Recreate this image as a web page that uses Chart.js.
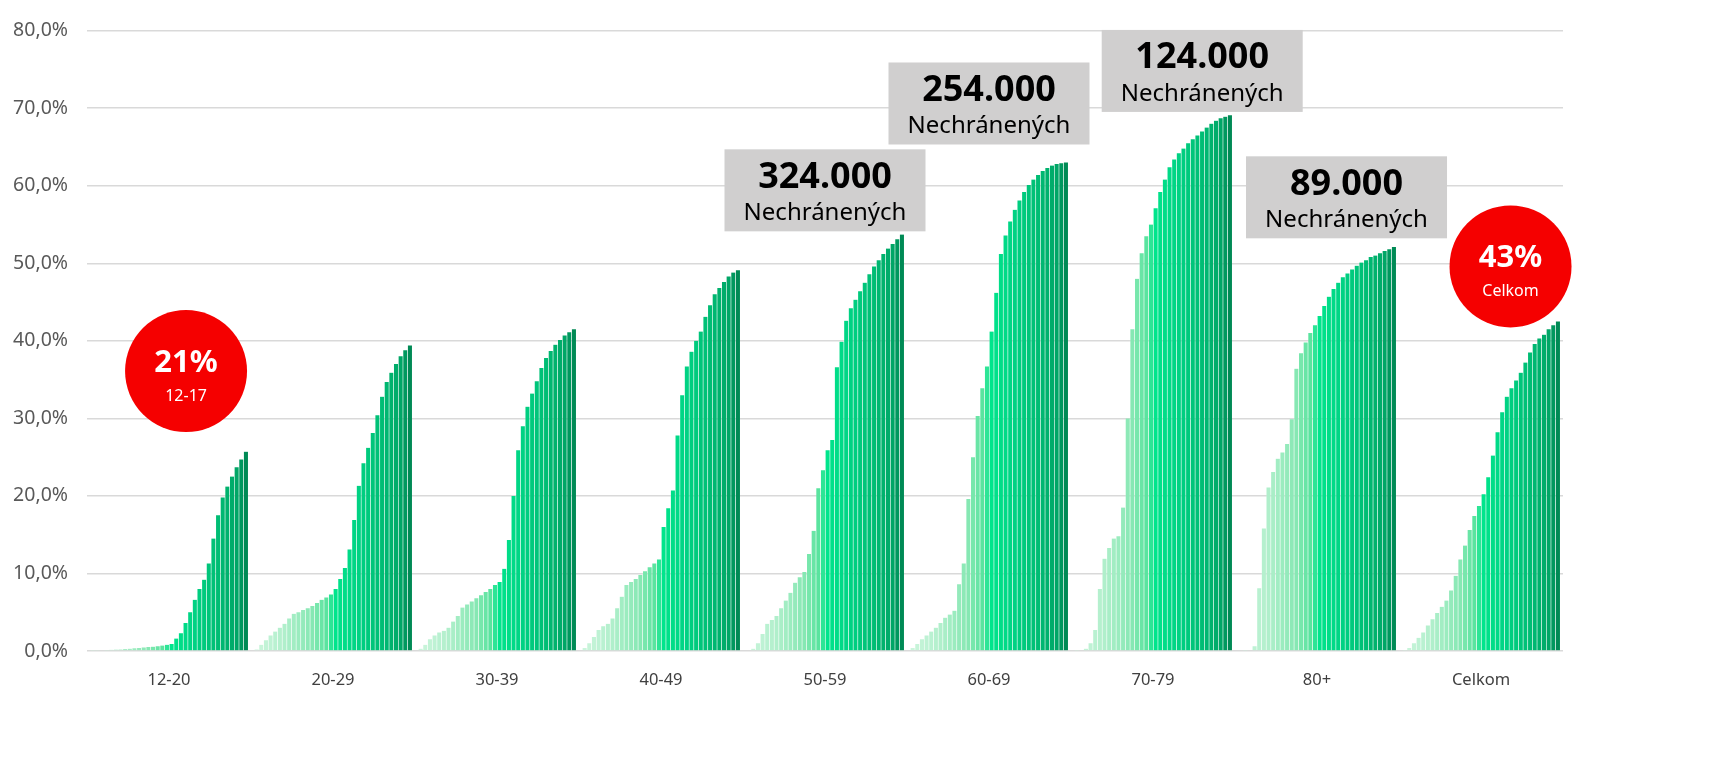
<!DOCTYPE html>
<html>
<head>
<meta charset="utf-8">
<script src="https://cdn.jsdelivr.net/npm/chart.js@4.4.0/dist/chart.umd.min.js"></script>
<style>
    html, body { margin: 0; padding: 0; background: #ffffff; }
    #wrap { width: 1729px; height: 761px; position: relative; }
</style>
</head>
<body>
<div id="wrap"><canvas id="chart"></canvas></div>
<script>
// Age groups on the x axis
const ageGroups = ['12-20', '20-29', '30-39', '40-49', '50-59', '60-69', '70-79', '80+', 'Celkom'];

// Share vaccinated (%) per reporting week, one array per age group (34 weeks)
const g1220 = [0.05, 0.08, 0.1, 0.12, 0.15, 0.18, 0.2, 0.25, 0.3, 0.35, 0.4, 0.45, 0.5, 0.55, 0.6, 0.7, 0.8, 0.9, 1.6, 2.3, 3.6, 5.0,
               6.6, 8.0, 9.2, 11.3, 14.5, 17.5, 19.8, 21.2, 22.5, 23.7, 24.7, 25.7];
const g2029 = [0.2, 0.8, 1.4, 2.0, 2.5, 3.0, 3.5, 4.2, 4.8, 5.0, 5.3, 5.5,
               5.8, 6.2, 6.6, 6.9, 7.3, 8.0, 9.3, 10.7, 13.1, 16.9, 21.3, 24.2, 26.2, 28.1, 30.4, 32.8, 34.7, 35.9, 37.0, 38.0, 38.8, 39.4];
const g3039 = [0.3, 0.8, 1.5, 2.0, 2.4, 2.6, 3.0, 3.8, 4.5, 5.6, 6.0, 6.4, 6.8, 7.2, 7.6, 8.0, 8.5, 8.9, 10.6,
               14.3, 20.0, 25.9, 29.0, 31.5, 33.2, 34.8, 36.5, 37.8, 38.7, 39.5, 40.1, 40.7, 41.1, 41.5];
const g4049 = [0.4, 1.0, 1.8, 2.7, 3.2, 3.5, 4.2, 5.5, 7.0, 8.5, 8.9, 9.3, 9.8, 10.3, 10.8, 11.3, 11.8,
               16.0, 18.4, 20.7, 27.8, 33.0, 36.7, 38.6, 40.0, 41.2, 43.1, 44.6, 46.0, 46.8, 47.6, 48.3, 48.8, 49.1];
const g5059 = [0.1, 0.3, 1.0, 2.2, 3.5, 4.0, 4.5, 5.5, 6.5, 7.5, 8.8, 9.5, 10.2, 12.5, 15.5, 21.0, 23.3, 25.9, 27.2,
               36.6, 39.9, 42.6, 44.2, 45.3, 46.4, 47.5, 48.6, 49.6, 50.4, 51.2, 51.9, 52.5, 53.1, 53.7];
const g6069 = [0.4, 0.9, 1.5, 2.0, 2.5, 3.0, 3.6, 4.3, 4.7, 5.2, 8.6, 11.3, 19.6, 25.0, 30.3, 33.9, 36.7,
               41.2, 46.2, 51.2, 53.6, 55.4, 56.9, 58.1, 59.2, 60.1, 60.8, 61.4, 61.9, 62.3, 62.6, 62.8, 62.9, 63.0];
const g7079 = [0.05, 0.1, 0.3, 1.0, 2.7, 8.0, 11.9, 13.3, 14.5, 14.8, 18.5, 30.0, 41.5, 48.0, 51.3, 53.5, 55.0,
               57.1, 59.2, 60.8, 62.4, 63.4, 64.2, 64.8, 65.5, 66.0, 66.5, 67.0, 67.5, 68.0, 68.4, 68.7, 68.9, 69.1];
const g80 = [0, 0.05, 0.1, 0.6, 8.1, 15.8, 21.1, 23.1, 24.8, 25.6, 26.7, 29.9, 36.4, 38.4, 39.8, 41.0, 42.0,
             43.2, 44.5, 45.7, 46.7, 47.5, 48.2, 48.7, 49.2, 49.7, 50.1, 50.4, 50.8, 51.0, 51.3, 51.6, 51.8, 52.1];
const gTotal = [0.05, 0.4, 1.0, 1.7, 2.4, 3.3, 4.1, 4.9, 5.7, 6.5, 7.8, 9.7, 11.8, 13.6, 15.6, 17.4, 18.7,
                20.2, 22.4, 25.2, 28.2, 30.8, 32.8, 33.9, 34.9, 35.9, 37.2, 38.5, 39.6, 40.3, 40.8, 41.5, 42.0, 42.5];

const groupSeries = [g1220, g2029, g3039, g4049, g5059, g6069, g7079, g80, gTotal];

// Callout boxes: unprotected counts
const boxNumbers = ['324.000', '254.000', '124.000', '89.000'];
const boxLabel = 'Nechránených';
const boxCenters = [4.0, 5.0, 6.3, 7.18];     // in category units
const boxTops = [64.7, 75.9, 80.1, 63.8];     // in % (y units)

// Red circles
const circleValues = ['21%', '43%'];
const circleLabels = ['12-17', 'Celkom'];
const circleCenters = [0.104, 8.18];
const circleLevels = [36.1, 49.6];

const FONT = '"Noto Sans", "DejaVu Sans", sans-serif';

// light mint -> bright green -> dark green, by week
const colorStops = [
    [0, '#cbf5dc'], [6, '#b0efcb'], [12, '#86e8b3'], [15, '#5ae49f'],
    [17, '#00e58c'], [22, '#00d283'], [27, '#00bd74'], [31, '#00a666'], [33, '#008a55']
];

function hexToRgb(h) {
    return [parseInt(h.slice(1, 3), 16), parseInt(h.slice(3, 5), 16), parseInt(h.slice(5, 7), 16)];
}

function weekColor(i) {
    for (let k = 0; k < colorStops.length - 1; k++) {
        const [i0, c0] = colorStops[k];
        const [i1, c1] = colorStops[k + 1];
        if (i >= i0 && i <= i1) {
            const t = (i - i0) / (i1 - i0);
            const a = hexToRgb(c0), b = hexToRgb(c1);
            const m = a.map((v, j) => Math.round(v + (b[j] - v) * t));
            return `rgb(${m[0]},${m[1]},${m[2]})`;
        }
    }
    return colorStops[colorStops.length - 1][1];
}

const weekCount = g1220.length;
const datasets = [];
for (let w = 0; w < weekCount; w++) {
    datasets.push({
        data: groupSeries.map(series => series[w]),
        backgroundColor: weekColor(w),
        borderColor: 'rgba(255,255,255,0.16)',
        borderWidth: { left: 1, top: 0, right: 0, bottom: 0 },
        borderSkipped: false,
        inflateAmount: 0.4
    });
}

const calloutPlugin = {
    id: 'callouts',
    afterDatasetsDraw(chart) {
        const { ctx, scales: { x, y } } = chart;
        ctx.save();
        ctx.textAlign = 'center';
        ctx.textBaseline = 'middle';

        boxNumbers.forEach((num, i) => {
            const cx = x.getPixelForValue(boxCenters[i]);
            const top = y.getPixelForValue(boxTops[i]);
            ctx.fillStyle = '#d0cfcf';
            ctx.fillRect(cx - 100.5, top, 201, 82);
            ctx.fillStyle = '#000000';
            ctx.font = `bold 36px ${FONT}`;
            ctx.fillText(num, cx, top + 28);
            ctx.font = `24px ${FONT}`;
            ctx.fillText(boxLabel, cx, top + 64);
        });

        circleValues.forEach((val, i) => {
            const cx = x.getPixelForValue(circleCenters[i]);
            const cy = y.getPixelForValue(circleLevels[i]);
            ctx.beginPath();
            ctx.arc(cx, cy, 61, 0, Math.PI * 2);
            ctx.fillStyle = '#f50000';
            ctx.fill();
            ctx.fillStyle = '#ffffff';
            ctx.font = `bold 31px ${FONT}`;
            ctx.fillText(val, cx, cy - 8);
            ctx.font = `16px ${FONT}`;
            ctx.fillText(circleLabels[i], cx, cy + 25);
        });
        ctx.restore();
    }
};

new Chart(document.getElementById('chart'), {
    type: 'bar',
    data: { labels: ageGroups, datasets: datasets },
    options: {
        responsive: true,
        maintainAspectRatio: false,
        animation: false,
        layout: { padding: { top: 19, right: 166, bottom: 0, left: 0 } },
        datasets: { bar: { categoryPercentage: 0.963, barPercentage: 1.0 } },
        plugins: {
            legend: { display: false },
            tooltip: { enabled: false }
        },
        scales: {
            x: {
                grid: { display: false, drawTicks: false },
                border: { display: false },
                ticks: { color: '#404040', font: { family: FONT, size: 16.5 }, padding: 19 },
                afterFit: (s) => { s.height = 110; }
            },
            y: {
                min: 0,
                max: 80,
                ticks: {
                    stepSize: 10,
                    color: '#595959',
                    font: { family: FONT, size: 19.5 },
                    padding: 19,
                    callback: (v) => v.toFixed(1).replace('.', ',') + '%'
                },
                grid: { color: '#d9d9d9', lineWidth: 1.5, drawTicks: false },
                border: { display: false },
                afterFit: (s) => { s.width = 87; }
            }
        }
    },
    plugins: [calloutPlugin]
});
</script>
</body>
</html>
